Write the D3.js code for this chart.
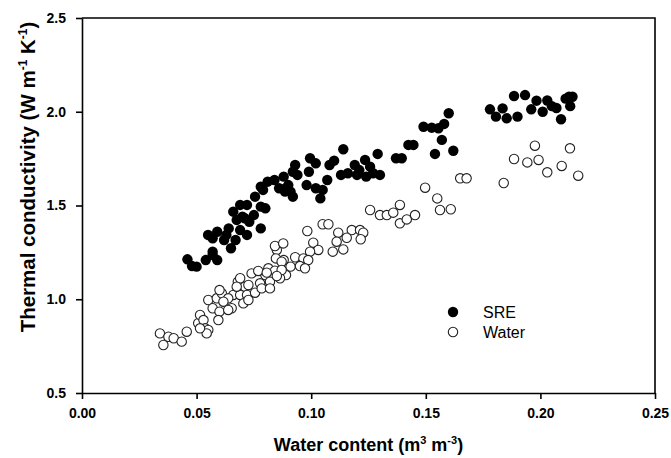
<!DOCTYPE html>
<html>
<head>
<meta charset="utf-8">
<script src="https://cdn.jsdelivr.net/npm/d3@7"></script>
<style>
body { margin: 0; background: #fff; }
text { font-family: Arial, "Liberation Sans", sans-serif; }
</style>
</head>
<body>
<script>
// data (water content, thermal conductivity)
var sreX = [0.046,0.048,0.050,0.054,0.057,0.059,0.055,0.057,0.059,0.062,0.063,0.064,0.065,0.067,0.066,0.0675,0.069,0.071,0.072,0.073,0.075,0.0755,0.072,0.078,0.078,0.080,0.081,0.084,0.057,0.070,0.088,0.089,0.092,0.093,0.094,
	0.114,0.129,0.137,0.0995,0.102,0.110,0.108,0.099,0.119,0.1235,0.113,0.116,0.120,0.124,0.127,0.130,0.098,0.102,0.105,0.107,0.104,0.091,0.086,0.0886,0.090,0.079,0.092,0.069,0.078,
	0.160,0.149,0.1526,0.1555,0.158,0.157,0.154,0.162,0.1424,0.1446,0.1395,0.1257,0.121,
	0.178,0.1806,0.1835,0.1853,0.190,0.1885,0.1933,0.196,0.1983,0.201,0.203,0.205,0.207,0.209,0.211,0.2125,0.213,0.214];
var sreY = [1.213,1.177,1.174,1.209,1.236,1.209,1.343,1.325,1.360,1.316,1.343,1.378,1.272,1.316,1.467,1.423,1.369,1.432,1.343,1.413,1.449,1.547,1.503,1.600,1.378,1.485,1.627,1.636,1.254,1.440,1.654,1.592,1.547,1.716,1.663,
	1.800,1.775,1.752,1.752,1.725,1.739,1.716,1.680,1.716,1.743,1.663,1.672,1.663,1.654,1.672,1.663,1.609,1.592,1.583,1.636,1.538,1.574,1.592,1.574,1.609,1.583,1.680,1.503,1.494,
	1.992,1.920,1.915,1.912,1.935,1.850,1.775,1.792,1.823,1.823,1.752,1.707,1.689,
	2.013,1.974,2.018,1.965,1.974,2.084,2.089,2.013,2.059,2.00,2.06,2.03,2.02,1.96,2.07,2.08,2.03,2.08];

var waterX = [0.034,0.0377,0.040,0.0355,0.0435,0.0457,0.0507,0.0515,0.053,0.0537,0.0551,0.0551,0.0544,0.0515,0.0588,0.061,0.057,0.060,0.0595,0.066,0.0638,0.0617,0.0653,0.0638,
	0.068,0.071,0.069,0.072,0.0704,0.0726,0.074,0.080,0.082,0.0777,0.0755,0.0784,0.082,0.085,0.088,0.093,0.0966,0.091,0.089,0.0864,
	0.1257,0.130,0.133,0.1358,0.1387,0.1387,0.105,0.1075,0.0983,0.1118,0.1177,0.1213,0.1227,0.1155,0.1216,0.1111,0.114,0.1094,0.1009,0.1031,0.0995,
	0.0842,0.0878,0.0846,0.0871,0.0987,0.0951,0.0973,0.0813,0.0842,0.0871,0.0769,0.0806,0.085,0.069,0.0726,0.0675,0.060,
	0.1497,0.165,0.1678,0.155,0.1562,0.1609,0.1417,0.1453,
	0.184,0.1885,0.1943,0.1992,0.203,0.2093,0.2129,0.2165,0.1976];
var waterY = [0.818,0.800,0.792,0.756,0.774,0.827,0.872,0.916,0.889,0.845,0.836,0.996,0.818,0.845,1.005,1.032,0.952,0.934,0.889,1.023,1.005,0.987,0.952,0.943,
	1.094,1.067,1.023,1.023,0.978,0.996,1.138,1.129,1.094,1.085,1.035,1.058,1.058,1.263,1.209,1.224,1.218,1.174,1.129,1.112,
	1.476,1.449,1.449,1.462,1.503,1.405,1.400,1.400,1.364,1.355,1.369,1.369,1.355,1.328,1.320,1.307,1.266,1.254,1.302,1.263,1.254,
	1.284,1.298,1.218,1.200,1.209,1.177,1.165,1.165,1.152,1.156,1.151,1.142,1.124,1.112,1.076,1.067,1.049,
	1.595,1.645,1.645,1.538,1.476,1.480,1.426,1.449,
	1.620,1.748,1.730,1.743,1.677,1.711,1.805,1.659,1.819];

var xTicks = [0, 0.05, 0.10, 0.15, 0.20, 0.25];
var yTicks = [0.5, 1.0, 1.5, 2.0, 2.5];
var seriesNames = ["SRE", "Water"];

var width = 671, height = 458;
var margin = {left: 82, right: 16, top: 18, bottom: 65};

var svg = d3.select("body").append("svg")
	.attr("width", width)
	.attr("height", height);

var x = d3.scaleLinear().domain([0, 0.25]).range([margin.left, width - margin.right]);
var y = d3.scaleLinear().domain([0.5, 2.5]).range([height - margin.bottom, margin.top]);

function zip(xs, ys){
	return xs.map(function(v, i){ return {x: v, y: ys[i]}; });
}

//frame on top and right (no ticks)
svg.append("path")
	.attr("d", "M" + x(0) + "," + y(2.5) + "H" + x(0.25) + "V" + y(0.5))
	.attr("fill", "none")
	.attr("stroke", "#000")
	.attr("stroke-width", 1.6);

//axes
var xAxis = svg.append("g")
	.attr("transform", "translate(0," + y(0.5) + ")")
	.call(d3.axisBottom(x).tickValues(xTicks).tickFormat(d3.format(".2f")).tickSize(6).tickSizeOuter(0).tickPadding(9));
var yAxis = svg.append("g")
	.attr("transform", "translate(" + x(0) + ",0)")
	.call(d3.axisLeft(y).tickValues(yTicks).tickFormat(d3.format(".1f")).tickSize(6).tickSizeOuter(0).tickPadding(10));

[xAxis, yAxis].forEach(function(a){
	a.selectAll("path, line").attr("stroke", "#000").attr("stroke-width", 1.6);
	a.selectAll("text").attr("fill", "#000").style("font-size", "14px").style("font-weight", "bold");
});

//points
svg.selectAll(".water")
	.data(zip(waterX, waterY))
	.enter().append("circle")
	.attr("class", "water")
	.attr("cx", function(d){ return x(d.x); })
	.attr("cy", function(d){ return y(d.y); })
	.attr("r", 4.7)
	.attr("fill", "#fff")
	.attr("stroke", "#222")
	.attr("stroke-width", 1.1);

svg.selectAll(".sre")
	.data(zip(sreX, sreY))
	.enter().append("circle")
	.attr("class", "sre")
	.attr("cx", function(d){ return x(d.x); })
	.attr("cy", function(d){ return y(d.y); })
	.attr("r", 5.2)
	.attr("fill", "#000");

//legend
var legend = svg.selectAll(".legend")
	.data(seriesNames)
	.enter().append("g")
	.attr("class", "legend")
	.attr("transform", function(d, i){ return "translate(453," + (312 + i * 20) + ")"; });
legend.append("circle")
	.attr("r", function(d, i){ return i == 0 ? 5.2 : 4.7; })
	.attr("fill", function(d, i){ return i == 0 ? "#000" : "#fff"; })
	.attr("stroke", function(d, i){ return i == 0 ? "none" : "#222"; })
	.attr("stroke-width", 1.1);
legend.append("text")
	.attr("x", 30)
	.attr("dy", ".35em")
	.style("font-size", "16px")
	.text(function(d){ return d; });

//axis titles
var xt = svg.append("text")
	.attr("x", (x(0) + x(0.25)) / 2)
	.attr("y", 451)
	.attr("text-anchor", "middle")
	.style("font-size", "18px")
	.style("font-weight", "bold");
xt.append("tspan").text("Water content (m");
xt.append("tspan").attr("dy", -7).style("font-size", "11px").text("3");
xt.append("tspan").attr("dy", 7).text(" m");
xt.append("tspan").attr("dy", -7).style("font-size", "11px").text("-3");
xt.append("tspan").attr("dy", 7).text(")");

var yt = svg.append("text")
	.attr("transform", "translate(35,177) rotate(-90)")
	.attr("text-anchor", "middle")
	.style("font-size", "20.5px")
	.style("font-weight", "bold");
yt.append("tspan").text("Thermal conductivity (W m");
yt.append("tspan").attr("dy", -8).style("font-size", "12px").text("-1");
yt.append("tspan").attr("dy", 8).text(" K");
yt.append("tspan").attr("dy", -8).style("font-size", "12px").text("-1");
yt.append("tspan").attr("dy", 8).text(")");
</script>
</body>
</html>
